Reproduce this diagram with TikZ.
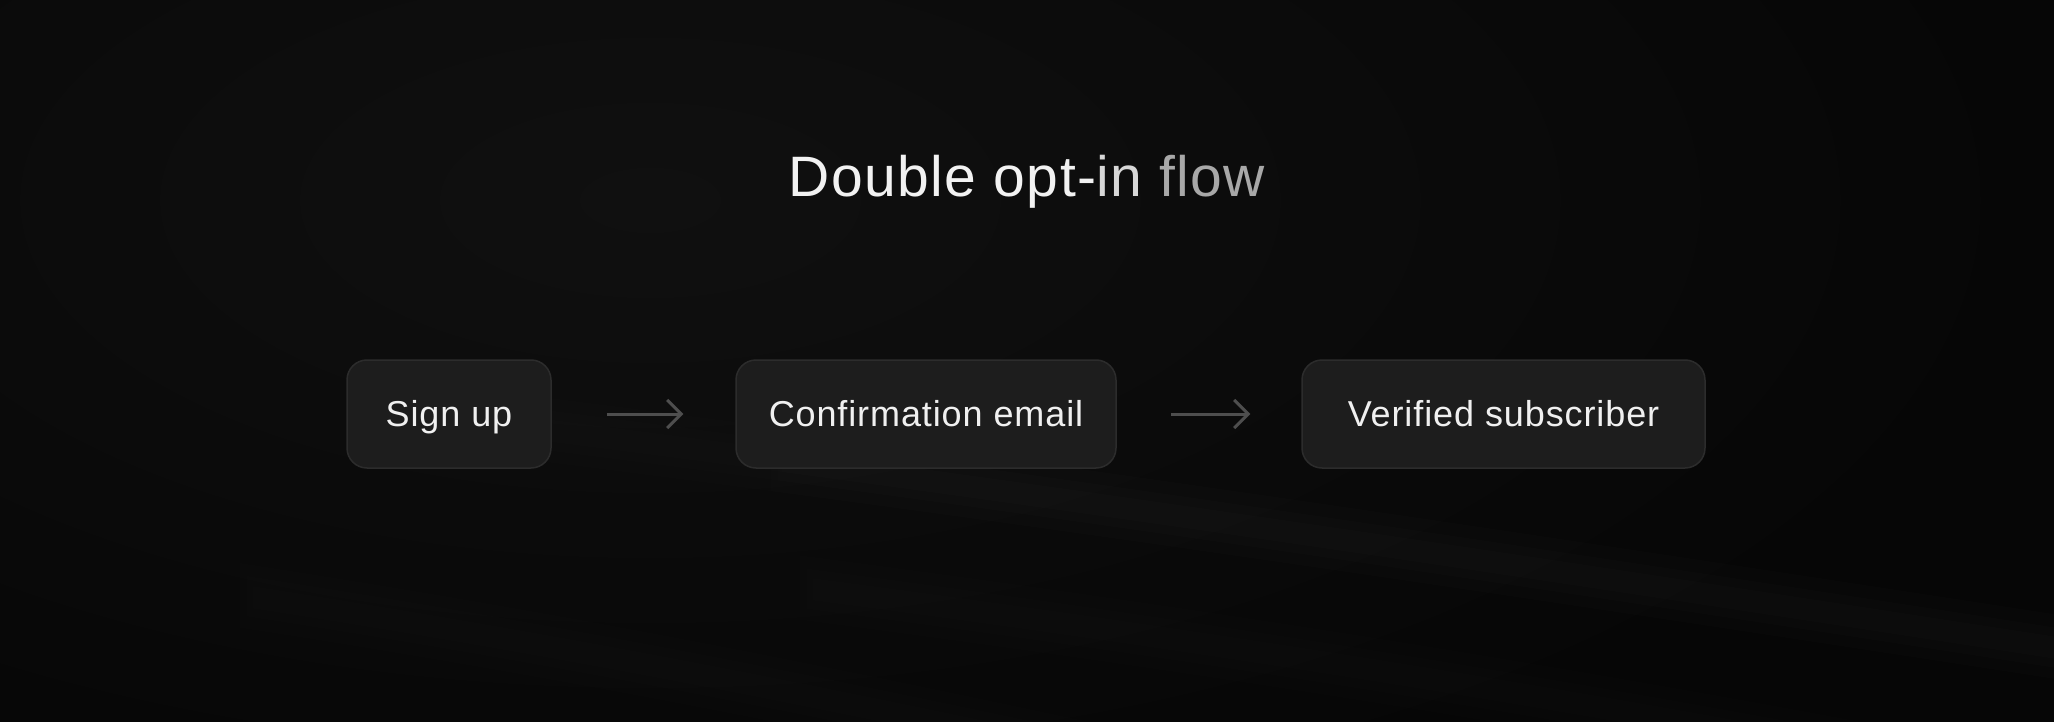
\documentclass[tikz,border=0pt]{standalone}
\usepackage{fontspec}
\setmainfont{Liberation Sans}[LetterSpace=2.5]
\usepackage{tikz}
\usetikzlibrary{arrows.meta,fadings}
\definecolor{bgdark}{RGB}{6,6,6}
\definecolor{bglight}{RGB}{16,16,16}
\definecolor{boxfill}{RGB}{29,29,29}
\definecolor{boxline}{RGB}{44,44,44}
\definecolor{arrowgrey}{RGB}{78,78,78}
\definecolor{titlewhite}{RGB}{242,242,242}
\definecolor{titlein}{RGB}{215,215,215}
\definecolor{titlegrey}{RGB}{168,168,168}
\definecolor{labelwhite}{RGB}{240,240,240}

% soft ends for the streaks
\pgfdeclarehorizontalshading{softendshade}{100bp}{color(0bp)=(pgftransparent!100);
    color(20bp)=(pgftransparent!100); color(40bp)=(pgftransparent!0);
    color(65bp)=(pgftransparent!0); color(80bp)=(pgftransparent!100); color(100bp)=(pgftransparent!100)}
\pgfdeclarefading{softend}{\pgfuseshading{softendshade}}

\tikzset{
    stepbox/.style={draw=boxline, line width=1.5pt, fill=boxfill, rounded corners=20pt,
        minimum height=108pt, text=labelwhite, text height=25pt, text depth=0pt,
        font=\fontsize{36}{43}\selectfont, inner sep=0pt},
    flowarrow/.style={draw=arrowgrey, line width=3pt, -{Straight Barb[length=14pt, width=28pt]}},
    streak/.style={white, line cap=round, path fading=softend}
}

\begin{document}
\begin{tikzpicture}[x=1pt, y=-1pt]
% background
\fill[bgdark] (0,0) rectangle (2054,722);
\useasboundingbox (0,0) rectangle (2054,722);
\shade[inner color=bglight, outer color=bgdark] (650,200) ellipse (1400 and 650);
% faint streaks
\foreach \w in {22,40,64} {
    \draw[streak, opacity=0.013, line width=\w pt] (300,400) .. controls (900,470) and (1500,560) .. (2400,700);
    \draw[streak, opacity=0.009, line width=\w pt] (500,550) .. controls (1000,610) and (1500,680) .. (2100,800);
    \draw[streak, opacity=0.009, line width=\w pt] (0,560) .. controls (500,630) and (800,690) .. (1300,800);
}
% title
\node[anchor=base, font=\fontsize{57}{66}\selectfont] (title) at (1027,197)
    {\textcolor{titlewhite}{Double opt-}\textcolor{titlein}{in} \textcolor{titlegrey}{flow}};
% boxes
\node[stepbox, minimum width=204pt] (signup) at (449,414) {Sign up};
\node[stepbox, minimum width=380pt] (confirm) at (926,414) {Confirmation email};
\node[stepbox, minimum width=403pt] (verified) at (1503.5,414) {Verified subscriber};
% arrows
\draw[flowarrow, shorten <=55pt, shorten >=52pt] (signup) -- (confirm);
\draw[flowarrow, shorten <=54pt, shorten >=51pt] (confirm) -- (verified);
\end{tikzpicture}
\end{document}
